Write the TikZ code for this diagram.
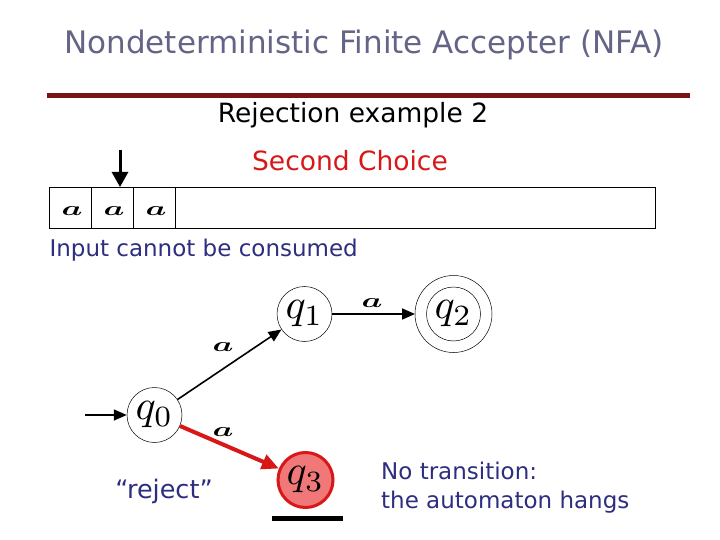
\documentclass[tikz,border=0pt]{standalone}
\usepackage{fontspec}
\usepackage{amsmath,bm}
\setmainfont{DejaVu Sans}
\usetikzlibrary{arrows.meta}
\definecolor{titlec}{HTML}{646487}
\definecolor{rulec}{HTML}{7A1414}
\definecolor{bluetxt}{HTML}{2E2E80}
\definecolor{redc}{HTML}{D81818}
\definecolor{fillred}{HTML}{F07878}
\newcommand{\syma}{\scalebox{3.3}[2]{$\bm{a}$}}
\newcommand{\stq}[1]{\scalebox{4.2}{$q_{#1}$}}
\begin{document}
\begin{tikzpicture}[x=1pt,y=-1pt,
  state/.style={circle,draw=black,line width=0.5pt,minimum size=55pt,inner sep=0pt,font=\fontsize{10}{10}\selectfont},
  edge/.style={-{Triangle[length=13pt,width=11pt]},line width=1.6pt},
  lbl/.style={font=\fontsize{10}{10}\selectfont,inner sep=0pt},
  cell/.style={draw=black,line width=0.8pt}]
\useasboundingbox (0,0) rectangle (720,540);
\fill[white] (0,0) rectangle (720,540);
% title
\node[text=titlec,font=\fontsize{31}{31}\selectfont] (title) at (364,45) {Nondeterministic Finite Accepter (NFA)};
\draw[rulec,line width=5pt] (47,96) -- (690,96);
\node[font=\fontsize{26.5}{26.5}\selectfont] (sub) at (353,115) {Rejection example 2};
\node[text=redc,font=\fontsize{26.5}{26.5}\selectfont] (choice) at (350,161) {Second Choice};
% tape
\draw[cell] (49,187) rectangle (655,228);
\draw[cell] (91,187) -- (91,228);
\draw[cell] (133,187) -- (133,228);
\draw[cell] (175,187) -- (175,228);
\node[lbl] (t1) at (72,211) {\syma};
\node[lbl] (t2) at (114,211) {\syma};
\node[lbl] (t3) at (156,211) {\syma};
\coordinate (hs) at (120,150);
\coordinate (he) at (120,187);
\draw[-{Triangle[length=15pt,width=16pt]},line width=3pt] (hs) -- (he);
\node[text=bluetxt,font=\fontsize{23}{23}\selectfont,anchor=west] (inp) at (46,250) {Input cannot be consumed};
% states
\node[state] (q0) at (154.5,415) {\stq0};
\node[state] (q1) at (304.5,314) {\stq1};
\node[state,minimum size=54pt] (q2) at (453.5,314) {\stq2};
\draw[line width=0.5pt] (q2.center) circle (38.5pt);
\coordinate (q2o) at (415,314);
\node[state,draw=redc,line width=3pt,fill=fillred] (q3) at (305.5,480) {\stq3};
\coordinate (st) at (85,415);
\draw[edge] (st) -- (q0);
\draw[edge] (q0) -- (q1);
\draw[edge] (q1) -- (q2o);
\draw[-{Triangle[length=17pt,width=15pt]},line width=4pt,redc] (q0) -- (q3);
\node[lbl] (l1) at (223,347) {\syma};
\node[lbl] (l2) at (372,303) {\syma};
\node[lbl] (l3) at (223,432) {\syma};
\draw[line width=5pt] (272,518) -- (343,518);
\node[text=bluetxt,font=\fontsize{25.5}{25.5}\selectfont] (rej) at (164,491) {“reject”};
\node[text=bluetxt,font=\fontsize{23}{29}\selectfont,anchor=north west,align=left,inner sep=0pt] (nt) at (381,462) {No transition:\\the automaton hangs};
\end{tikzpicture}
\end{document}
